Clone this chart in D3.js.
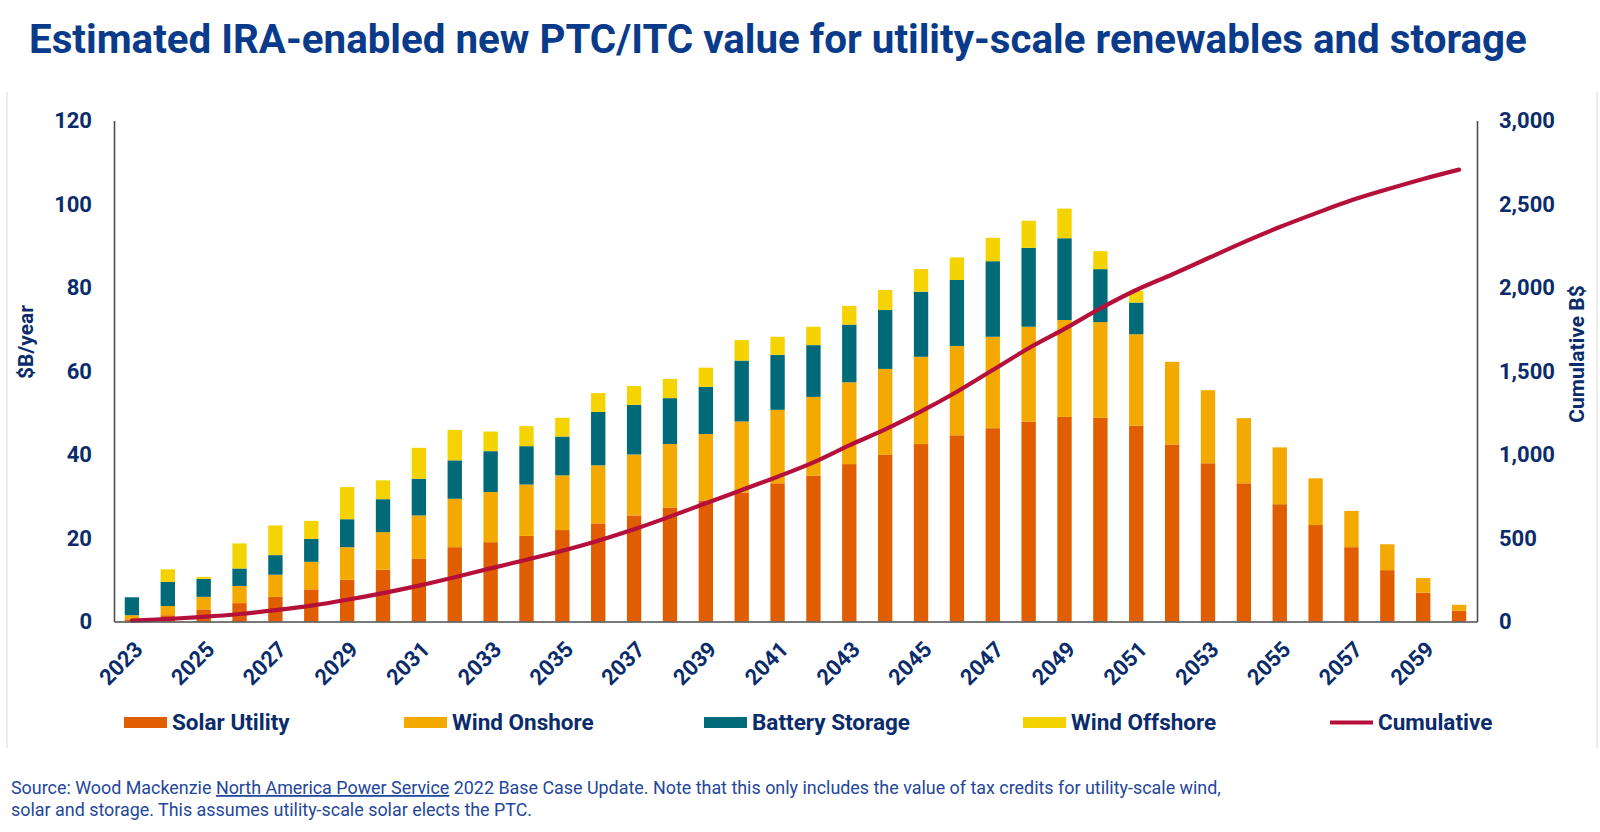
<!DOCTYPE html>
<html>
<head>
<meta charset="utf-8">
<script src="https://cdn.jsdelivr.net/npm/d3@7"></script>
<style>
  html, body { margin: 0; padding: 0; background: #fff; }
  svg { display: block; font-family: Roboto, "Noto Sans", sans-serif; }
</style>
</head>
<body>
<svg id="chart" width="1600" height="832"></svg>
<script>
// ---------- data ----------
const years = ["2023","2024","2025","2026","2027","2028","2029","2030","2031","2032",
  "2033","2034","2035","2036","2037","2038","2039","2040","2041","2042",
  "2043","2044","2045","2046","2047","2048","2049","2050","2051","2052",
  "2053","2054","2055","2056","2057","2058","2059","2060"];
const yearTickLabels = ["2023","2025","2027","2029","2031","2033","2035","2037","2039",
  "2041","2043","2045","2047","2049","2051","2053","2055","2057","2059"];
const solarUtility = [0.5,1.5,2.9,4.4,5.9,7.7,10.0,12.4,15.0,17.8,19.0,20.5,21.9,23.5,25.4,27.3,29.0,30.9,33.1,34.9,
  37.7,40.0,42.5,44.6,46.3,47.9,49.0,48.8,46.9,42.4,37.9,33.1,28.1,23.1,17.8,12.3,6.9,2.6];
const windOnshore = [1.0,2.2,3.0,4.1,5.3,6.6,7.8,9.0,10.4,11.6,12.0,12.3,13.1,13.9,14.6,15.2,15.9,17.0,17.6,18.9,
  19.6,20.5,20.9,21.4,21.9,22.7,23.2,22.9,21.9,19.8,17.5,15.6,13.6,11.2,8.7,6.2,3.5,1.4];
const batteryStorage = [4.3,5.8,4.3,4.2,4.7,5.5,6.7,7.9,8.8,9.2,9.8,9.2,9.3,12.8,11.9,11.0,11.3,14.6,13.2,12.4,
  13.8,14.1,15.6,15.8,18.1,18.9,19.6,12.7,7.6,0,0,0,0,0,0,0,0,0];
const windOffshore = [0,3.0,0.5,6.0,7.1,4.3,7.7,4.5,7.4,7.3,4.7,4.8,4.5,4.5,4.5,4.6,4.6,4.9,4.3,4.4,
  4.5,4.8,5.4,5.4,5.6,6.5,7.1,4.3,2.8,0,0,0,0,0,0,0,0,0];
const cumulative = [5,15,28,45,68,95,130,170,215,265,318,370,424,484,552,628,708,787,867,953,
  1055,1150,1258,1376,1506,1636,1752,1875,1985,2078,2175,2272,2362,2444,2522,2588,2650,2706];
const leftTicks = [0,20,40,60,80,100,120];
const rightTicks = [0,500,1000,1500,2000,2500,3000];
const seriesNames = ["Solar Utility","Wind Onshore","Battery Storage","Wind Offshore"];
const seriesKeys = ["solar","windOn","battery","windOff"];
const seriesColors = ["#e05d00","#f4a900","#006a78","#f5d300"];
const lineColor = "#b5103b";

const titleText = "Estimated IRA-enabled new PTC/ITC value for utility-scale renewables and storage";

// ---------- layout ----------
const svg = d3.select("#chart");
const plotLeft = 114, plotRight = 1477, plotTop = 120.5, plotBottom = 621.5;
const navy = "#0b2c6b";

const table = years.map((y, i) => ({
  year: y, solar: solarUtility[i], windOn: windOnshore[i],
  battery: batteryStorage[i], windOff: windOffshore[i], cum: cumulative[i]
}));

const x = d3.scaleBand().domain(years).range([plotLeft, plotRight]).paddingInner(0.6).paddingOuter(0.3);
const yL = d3.scaleLinear().domain([0, 120]).range([plotBottom, plotTop]);
const yR = d3.scaleLinear().domain([0, 3000]).range([plotBottom, plotTop]);

// faint frame lines
svg.append("line").attr("x1", 7).attr("x2", 7).attr("y1", 92).attr("y2", 748)
  .attr("stroke", "#ececec").attr("stroke-width", 2);
svg.append("line").attr("x1", 1597).attr("x2", 1597).attr("y1", 92).attr("y2", 748)
  .attr("stroke", "#ececec").attr("stroke-width", 2);

// title
const title = svg.append("text").attr("x", 29).attr("y", 53)
  .attr("font-size", 38).attr("font-weight", 700).attr("fill", "#0a3a8a").text(titleText);
const tw = title.node().getComputedTextLength();
title.attr("font-size", 38 * 1498 / tw);

// stacked bars
const stack = d3.stack().keys(seriesKeys)(table);
svg.append("g").selectAll("g").data(stack).join("g")
  .attr("fill", (d, i) => seriesColors[i])
  .selectAll("rect").data(d => d).join("rect")
  .attr("x", d => x(d.data.year))
  .attr("width", x.bandwidth())
  .attr("y", d => yL(d[1]))
  .attr("height", d => Math.max(0, yL(d[0]) - yL(d[1])));

// cumulative line
const line = d3.line().x(d => x(d.year) + x.bandwidth() / 2).y(d => yR(d.cum)).curve(d3.curveMonotoneX);
svg.append("path").datum(table).attr("d", line).attr("fill", "none")
  .attr("stroke", lineColor).attr("stroke-width", 4.2).attr("stroke-linecap", "round");

// axes
const axL = svg.append("g").attr("transform", `translate(${plotLeft},0)`)
  .call(d3.axisLeft(yL).tickValues(leftTicks).tickSize(0).tickPadding(22));
const axR = svg.append("g").attr("transform", `translate(${plotRight},0)`)
  .call(d3.axisRight(yR).tickValues(rightTicks).tickSize(0).tickPadding(22).tickFormat(d3.format(",")));
const axB = svg.append("g").attr("transform", `translate(0,${plotBottom})`)
  .call(d3.axisBottom(x).tickValues(yearTickLabels).tickSize(0).tickPadding(0));
[axL, axR, axB].forEach(g => {
  g.select(".domain").attr("stroke", "#4d4d4d").attr("stroke-width", 1.6);
  g.selectAll("text").attr("fill", navy).attr("font-weight", 700)
    .attr("font-family", "Roboto, sans-serif");
});
axL.selectAll("text").attr("font-size", 22);
axR.selectAll("text").attr("font-size", 22);
axB.selectAll("text").attr("font-size", 22)
  .attr("text-anchor", "end")
  .attr("transform", "translate(1,18) rotate(-45)")
  .attr("dy", "0.72em").attr("y", 0).attr("x", 0);

// axis titles
svg.append("text").attr("transform", "translate(33,342) rotate(-90)")
  .attr("text-anchor", "middle").attr("font-size", 21).attr("font-weight", 700)
  .attr("fill", navy).text("$B/year");
svg.append("text").attr("transform", "translate(1584,354) rotate(-90)")
  .attr("text-anchor", "middle").attr("font-size", 21).attr("font-weight", 700)
  .attr("fill", navy).text("Cumulative B$");

// legend
const legendX = [124, 404, 704, 1023, 1330];
const lg = svg.append("g");
seriesNames.forEach((name, i) => {
  lg.append("rect").attr("x", legendX[i]).attr("y", 717).attr("width", 43).attr("height", 11)
    .attr("fill", seriesColors[i]);
  lg.append("text").attr("x", legendX[i] + 48).attr("y", 730)
    .attr("font-size", 22.5).attr("font-weight", 700).attr("fill", navy).text(name);
});
lg.append("line").attr("x1", legendX[4]).attr("x2", legendX[4] + 43).attr("y1", 722.5).attr("y2", 722.5)
  .attr("stroke", lineColor).attr("stroke-width", 4.2);
lg.append("text").attr("x", legendX[4] + 48).attr("y", 730)
  .attr("font-size", 22.5).attr("font-weight", 700).attr("fill", navy).text("Cumulative");

// source
const src = svg.append("text").attr("x", 11).attr("y", 794).attr("font-size", 17.9).attr("fill", "#24479a");
src.append("tspan").text("Source: Wood Mackenzie ");
src.append("tspan").attr("text-decoration", "underline").text("North America Power Service");
src.append("tspan").text(" 2022 Base Case Update. Note that this only includes the value of tax credits for utility-scale wind,");
svg.append("text").attr("x", 11).attr("y", 816).attr("font-size", 17.9).attr("fill", "#24479a")
  .text("solar and storage. This assumes utility-scale solar elects the PTC.");
</script>
</body>
</html>
